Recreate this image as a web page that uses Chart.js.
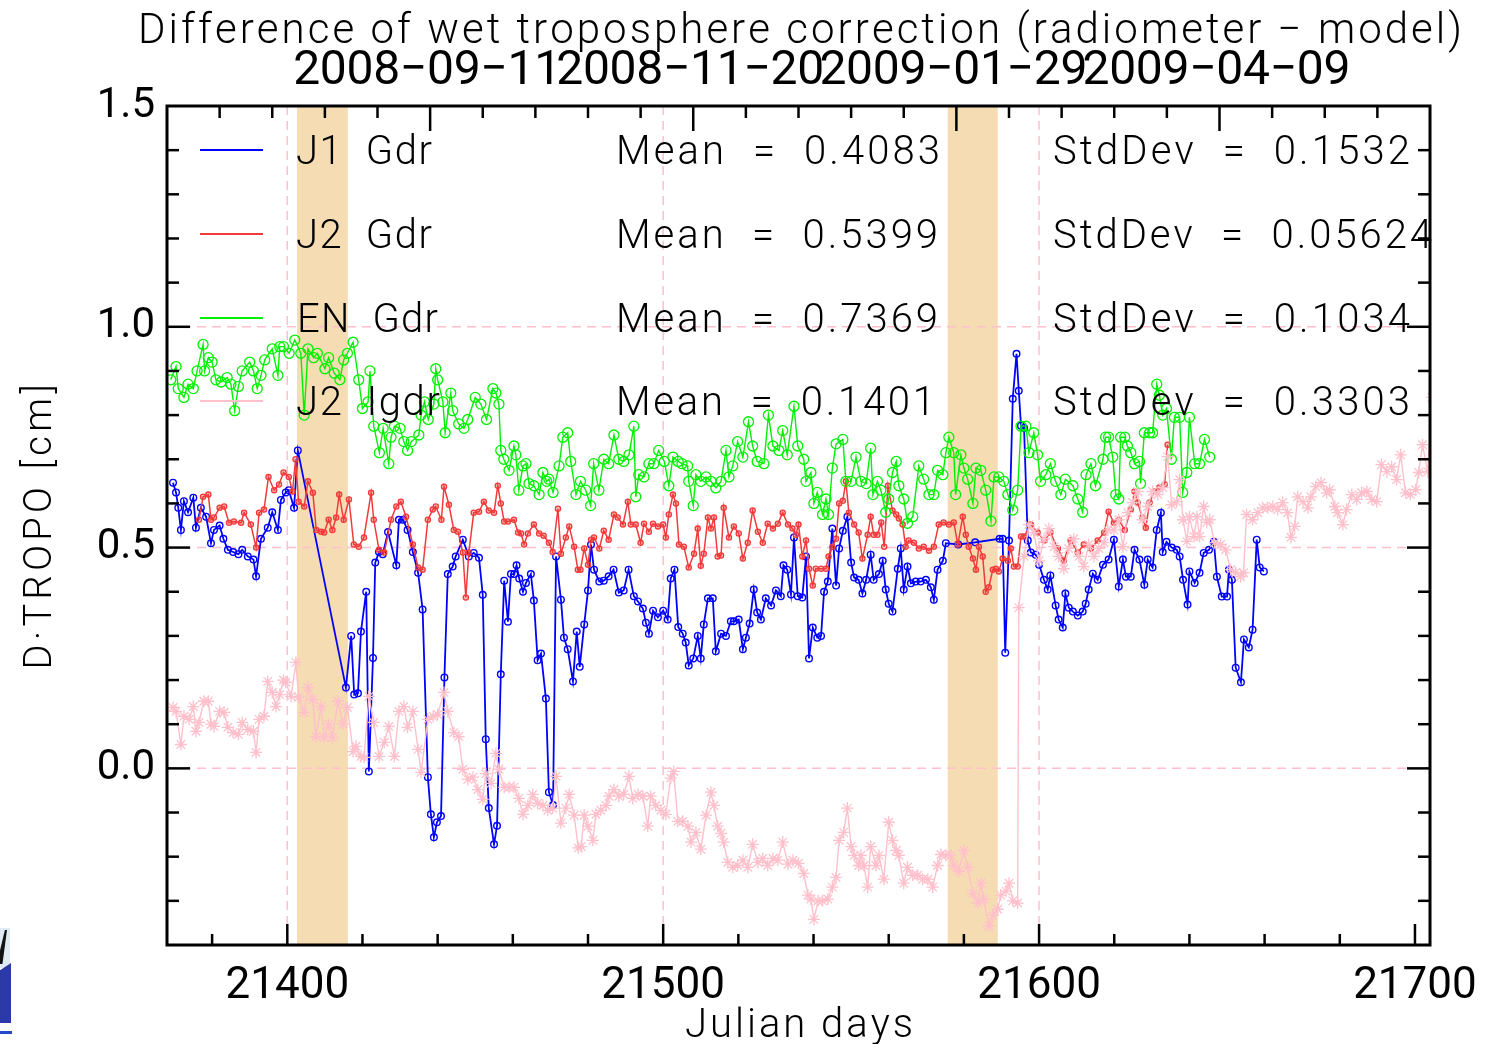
<!DOCTYPE html>
<html>
<head>
<meta charset="utf-8">
<title>Difference of wet troposphere correction</title>
<script src="https://cdn.jsdelivr.net/npm/chart.js@4.4.1/dist/chart.umd.min.js"></script>
<style>
  html, body { margin: 0; padding: 0; background: #fff; }
  #wrap { position: relative; width: 1485px; height: 1044px; }
  .logo { position: absolute; }
</style>
</head>
<body>
<div id="wrap">
  <canvas id="tropoChart"></canvas>
  <div class="logo" style="left:0;top:928px;width:10px;height:40px;background:#dfeaf2;"></div>
  <div class="logo" style="left:0;top:930px;width:7px;height:34px;background:#111;clip-path:polygon(70% 0,100% 0,35% 100%,0 100%,0 60%);"></div>
  <div class="logo" style="left:0;top:963px;width:11px;height:60px;background:#2b3aa6;clip-path:polygon(0 12%,100% 0,100% 100%,0 100%);"></div>
  <div class="logo" style="left:0;top:1031px;width:12px;height:3px;background:#2448c8;"></div>
</div>
<script>
// J1 Gdr, J2 Gdr, EN Gdr, J2 Igdr : [julian day, radiometer - model (cm)]
const j1Gdr = [[21369.6,0.647],[21370.4,0.625],[21371,0.59],[21371.7,0.54],[21372.5,0.605],[21373.6,0.58],[21375,0.613],[21375.7,0.545],[21377,0.59],[21378.4,0.57],[21379.7,0.51],[21380.5,0.54],[21382,0.55],[21383,0.52],[21384.2,0.495],[21385.6,0.49],[21387,0.485],[21388,0.495],[21389.5,0.48],[21391,0.473],[21391.7,0.435],[21393,0.52],[21394.8,0.545],[21396,0.58],[21397.5,0.54],[21398.3,0.608],[21399.6,0.625],[21400.4,0.63],[21401.8,0.59],[21402.8,0.72],[21415.6,0.183],[21417,0.30],[21417.8,0.167],[21418.8,0.17],[21419.6,0.31],[21421,0.40],[21421.7,-0.007],[21422.8,0.25],[21423.4,0.466],[21424.4,0.49],[21425.4,0.485],[21426.8,0.535],[21429,0.46],[21429.7,0.563],[21430.8,0.563],[21432,0.54],[21433.4,0.49],[21434.8,0.443],[21436,0.36],[21437.4,-0.02],[21438.2,-0.104],[21439,-0.156],[21439.8,-0.122],[21440.9,-0.108],[21441.8,0.206],[21442.7,0.44],[21444,0.457],[21444.8,0.48],[21446.7,0.518],[21448.3,0.48],[21449.6,0.488],[21451,0.477],[21452,0.393],[21452.8,0.066],[21453.6,-0.09],[21455,-0.172],[21455.8,-0.13],[21456.8,0.213],[21457.7,0.425],[21458.7,0.332],[21459.5,0.44],[21460.4,0.44],[21461,0.46],[21461.7,0.43],[21462.7,0.40],[21463.5,0.42],[21464.8,0.44],[21465.6,0.38],[21466.6,0.245],[21467.5,0.26],[21468.8,0.158],[21469.6,-0.054],[21470.7,-0.083],[21471.5,0.48],[21472.8,0.382],[21473.6,0.296],[21474.6,0.27],[21476,0.197],[21477,0.31],[21477.8,0.23],[21479,0.326],[21480,0.403],[21480.8,0.507],[21481.6,0.45],[21483,0.423],[21484.2,0.425],[21485.5,0.435],[21486.8,0.45],[21488.2,0.398],[21489.5,0.403],[21490.8,0.45],[21492.2,0.39],[21493.3,0.378],[21494.6,0.362],[21495.4,0.33],[21496.2,0.305],[21497.3,0.357],[21498.6,0.342],[21500,0.357],[21501.2,0.337],[21502,0.43],[21503,0.45],[21504,0.32],[21505.2,0.305],[21506,0.285],[21506.8,0.233],[21508,0.249],[21509.2,0.30],[21510,0.249],[21510.8,0.326],[21511.9,0.385],[21513.2,0.385],[21514,0.265],[21515.4,0.305],[21516.7,0.30],[21518,0.333],[21518.8,0.333],[21520.1,0.337],[21521.2,0.27],[21522,0.296],[21523,0.328],[21524.1,0.405],[21525,0.353],[21526,0.337],[21527.3,0.385],[21528.7,0.369],[21530,0.403],[21531.3,0.39],[21532,0.46],[21533,0.45],[21534,0.394],[21534.8,0.523],[21535.8,0.39],[21537,0.387],[21538,0.48],[21538.8,0.249],[21539.8,0.319],[21541,0.296],[21542,0.30],[21542.8,0.40],[21543.8,0.423],[21545,0.543],[21546,0.414],[21546.8,0.498],[21547.8,0.538],[21549,0.57],[21550,0.466],[21550.8,0.432],[21552,0.427],[21553,0.396],[21554,0.427],[21555.2,0.484],[21556,0.427],[21557.4,0.44],[21558.4,0.47],[21559.2,0.405],[21560,0.373],[21561,0.355],[21562.4,0.452],[21563.2,0.498],[21564,0.405],[21565,0.457],[21565.9,0.419],[21567.2,0.423],[21568.5,0.423],[21569.9,0.427],[21571.2,0.41],[21572,0.382],[21573,0.45],[21574.4,0.47],[21575.2,0.51],[21578.5,0.507],[21583,0.512],[21589.5,0.52],[21590.3,0.52],[21591,0.262],[21592,0.516],[21593,0.837],[21594,0.939],[21594.6,0.855],[21595.2,0.776],[21596,0.771],[21597,0.516],[21597.8,0.489],[21599.1,0.484],[21600,0.461],[21601.3,0.427],[21602.3,0.405],[21603,0.437],[21604.4,0.369],[21605.2,0.337],[21606.3,0.319],[21607,0.396],[21607.9,0.364],[21609,0.355],[21610.3,0.346],[21611.6,0.355],[21612.4,0.373],[21613.2,0.405],[21614.3,0.441],[21615.6,0.427],[21617,0.461],[21618.5,0.473],[21619.9,0.518],[21621.2,0.412],[21622.3,0.473],[21623.1,0.434],[21624.4,0.434],[21625.4,0.495],[21626.7,0.473],[21628,0.416],[21628.9,0.473],[21630.2,0.455],[21631.3,0.54],[21632.4,0.579],[21632.9,0.49],[21633.9,0.513],[21635.3,0.50],[21636.6,0.495],[21637.4,0.48],[21638.3,0.427],[21639.5,0.371],[21640,0.446],[21641.4,0.42],[21642.7,0.443],[21643.8,0.488],[21645.2,0.495],[21646.5,0.513],[21647.3,0.434],[21648.6,0.389],[21650,0.389],[21650.5,0.45],[21651.3,0.427],[21652.3,0.228],[21653.7,0.195],[21654.5,0.292],[21655.8,0.274],[21656.8,0.314],[21657.9,0.518],[21658.7,0.455],[21659.8,0.446]];

const j2Gdr = [[21376.5,0.563],[21377.6,0.615],[21379,0.62],[21379.7,0.563],[21380.5,0.568],[21382,0.59],[21383.2,0.593],[21384.5,0.556],[21385.8,0.559],[21387.7,0.556],[21388.5,0.579],[21390.3,0.552],[21391.7,0.50],[21392.5,0.579],[21393.8,0.586],[21395,0.66],[21396.5,0.63],[21397.8,0.643],[21399,0.67],[21400.4,0.66],[21401.4,0.627],[21402.2,0.70],[21403,0.604],[21404.5,0.593],[21405.5,0.65],[21406.8,0.624],[21407.7,0.54],[21409,0.536],[21409.8,0.534],[21411,0.563],[21412,0.54],[21413,0.568],[21413.8,0.62],[21415,0.563],[21416.4,0.609],[21417.7,0.507],[21419,0.502],[21420.4,0.523],[21422.3,0.624],[21423,0.563],[21424.4,0.495],[21425.8,0.489],[21427.6,0.563],[21429,0.593],[21430.2,0.604],[21431.6,0.57],[21433.4,0.507],[21434.8,0.455],[21436,0.45],[21437.4,0.563],[21438.7,0.586],[21439.5,0.593],[21441,0.563],[21441.7,0.638],[21443,0.597],[21444.3,0.54],[21445.4,0.536],[21446.7,0.489],[21447.5,0.387],[21448.3,0.489],[21449.6,0.579],[21451,0.581],[21452.3,0.604],[21453.6,0.584],[21455,0.579],[21456,0.64],[21456.8,0.60],[21457.7,0.559],[21458.7,0.559],[21460.3,0.563],[21461.4,0.534],[21462.2,0.532],[21463,0.507],[21464,0.532],[21465.6,0.552],[21467,0.532],[21468.2,0.527],[21469.6,0.511],[21470.6,0.49],[21472,0.588],[21472.8,0.486],[21474.1,0.523],[21475,0.548],[21476.3,0.502],[21477.3,0.45],[21478,0.45],[21479,0.498],[21480,0.461],[21480.8,0.518],[21481.6,0.523],[21483,0.498],[21484.2,0.538],[21485.5,0.518],[21486.9,0.575],[21487.9,0.568],[21489.3,0.552],[21490.6,0.604],[21491.4,0.552],[21492.7,0.552],[21494,0.511],[21494.9,0.554],[21496.2,0.536],[21497.3,0.554],[21498.6,0.548],[21500,0.552],[21500.7,0.523],[21501.5,0.575],[21502.6,0.62],[21503.4,0.60],[21504.2,0.507],[21505.5,0.502],[21506.8,0.455],[21508.2,0.486],[21509.2,0.543],[21510,0.459],[21510.8,0.486],[21511.9,0.568],[21512.7,0.543],[21513.5,0.568],[21514.5,0.48],[21515.4,0.482],[21516.1,0.59],[21517.5,0.523],[21518.8,0.548],[21520.1,0.532],[21521.2,0.475],[21522.5,0.511],[21523.8,0.584],[21525.2,0.536],[21526.5,0.511],[21527.8,0.554],[21529.2,0.543],[21530.5,0.554],[21531.8,0.579],[21533.2,0.552],[21534.4,0.543],[21535.3,0.529],[21536,0.552],[21537,0.48],[21538,0.516],[21538.8,0.452],[21539.8,0.414],[21540.6,0.452],[21542,0.452],[21543.3,0.452],[21544,0.48],[21545,0.502],[21546,0.52],[21546.8,0.60],[21547.8,0.606],[21548.6,0.65],[21549.4,0.579],[21550.8,0.552],[21552,0.534],[21553,0.475],[21554.4,0.529],[21555.2,0.57],[21556,0.529],[21557,0.529],[21558,0.557],[21558.8,0.502],[21559.8,0.64],[21561,0.584],[21562,0.575],[21562.7,0.566],[21563.7,0.552],[21564.5,0.502],[21565.3,0.516],[21566.7,0.511],[21568,0.498],[21569.3,0.502],[21570.7,0.493],[21572,0.502],[21573.3,0.552],[21574.6,0.557],[21576,0.552],[21577.3,0.557],[21578.4,0.507],[21579.7,0.57],[21580.5,0.529],[21581.3,0.502],[21582.4,0.475],[21583.2,0.45],[21584,0.502],[21585,0.48],[21585.8,0.40],[21586.6,0.41],[21587.7,0.45],[21588.5,0.452],[21589.3,0.446],[21590.3,0.475],[21591.7,0.47],[21592.5,0.498],[21593.3,0.457],[21594.3,0.457],[21595.2,0.525],[21596,0.525],[21597.8,0.552],[21599.6,0.534],[21601.4,0.516],[21603,0.534],[21605,0.498],[21606.6,0.47],[21608.4,0.516],[21610.3,0.489],[21611.9,0.507],[21613.8,0.498],[21615.6,0.516],[21617.3,0.534],[21618.5,0.581],[21619.9,0.556],[21621.2,0.563],[21622.8,0.54],[21624.4,0.586],[21625.4,0.627],[21626.2,0.602],[21627.5,0.568],[21628.4,0.545],[21629.4,0.602],[21630.7,0.627],[21632,0.636],[21633.4,0.643],[21634.2,0.733]];

const enGdr = [[21369,0.88],[21370.4,0.91],[21371,0.86],[21372.5,0.84],[21373.6,0.87],[21375,0.86],[21376,0.90],[21377.6,0.96],[21378,0.90],[21379,0.93],[21380,0.92],[21381,0.88],[21382.4,0.875],[21384,0.885],[21385,0.87],[21386,0.81],[21387,0.865],[21388,0.90],[21390,0.92],[21391,0.90],[21392,0.86],[21393,0.89],[21394,0.925],[21396,0.95],[21397.5,0.89],[21398,0.955],[21399,0.955],[21400.5,0.94],[21402,0.97],[21403.6,0.94],[21404.5,0.80],[21405.5,0.95],[21407,0.93],[21408,0.94],[21410,0.905],[21411,0.93],[21412.5,0.895],[21414,0.88],[21415,0.925],[21416,0.94],[21417.5,0.965],[21419,0.88],[21420,0.815],[21421.5,0.83],[21422,0.90],[21423,0.775],[21424.5,0.715],[21425.5,0.77],[21427,0.69],[21427.6,0.75],[21428.5,0.775],[21430,0.77],[21431,0.74],[21432,0.72],[21433,0.74],[21435,0.755],[21435.6,0.80],[21436.5,0.83],[21437.5,0.79],[21439,0.825],[21439.5,0.905],[21440,0.88],[21441.4,0.83],[21442,0.76],[21443.5,0.85],[21444,0.81],[21445.6,0.78],[21447,0.77],[21448,0.79],[21450,0.84],[21451.5,0.825],[21453,0.79],[21454.7,0.86],[21455.5,0.85],[21456.3,0.825],[21456.8,0.72],[21457.6,0.70],[21459,0.675],[21460.3,0.73],[21460.8,0.71],[21461.6,0.63],[21462.7,0.685],[21463.5,0.69],[21464.3,0.645],[21465.6,0.64],[21467,0.62],[21468,0.67],[21469,0.65],[21469.6,0.655],[21470.7,0.625],[21472.3,0.685],[21473.3,0.75],[21474.6,0.76],[21475.4,0.695],[21476.8,0.62],[21478,0.65],[21479.4,0.63],[21480.7,0.595],[21481.5,0.69],[21482.9,0.63],[21484.2,0.70],[21485.5,0.69],[21486.9,0.755],[21488.2,0.70],[21489.5,0.695],[21490.9,0.71],[21492.2,0.775],[21492.7,0.615],[21493.5,0.665],[21494.9,0.66],[21496.2,0.69],[21497.5,0.69],[21498.8,0.72],[21500.3,0.695],[21501.5,0.64],[21502.6,0.705],[21504,0.695],[21505,0.69],[21506.5,0.685],[21506.8,0.65],[21508,0.595],[21508.7,0.665],[21510,0.65],[21511.4,0.66],[21512.7,0.65],[21514,0.635],[21515.4,0.65],[21516.7,0.72],[21517.5,0.66],[21518.5,0.685],[21519.8,0.74],[21521.2,0.705],[21522.7,0.785],[21523.8,0.73],[21525,0.695],[21526.8,0.69],[21528,0.80],[21529.2,0.73],[21530.8,0.72],[21531.8,0.765],[21533,0.71],[21534.8,0.82],[21535.8,0.73],[21537.4,0.70],[21538,0.65],[21539.3,0.67],[21540.1,0.60],[21541,0.625],[21542.4,0.575],[21543.3,0.61],[21544,0.575],[21545,0.68],[21546,0.735],[21547.8,0.745],[21548.6,0.65],[21550,0.65],[21551.3,0.705],[21552.6,0.65],[21554,0.645],[21555.2,0.725],[21555.8,0.62],[21557,0.65],[21557.9,0.63],[21559.2,0.58],[21560,0.61],[21561,0.67],[21562,0.695],[21562.7,0.64],[21564,0.61],[21565,0.555],[21566.4,0.57],[21568,0.685],[21569.3,0.655],[21570.7,0.62],[21572,0.62],[21573,0.675],[21574.4,0.665],[21575.2,0.715],[21576,0.75],[21577.3,0.715],[21577.8,0.62],[21579.2,0.71],[21580,0.68],[21581,0.655],[21582.4,0.60],[21583.2,0.68],[21584.5,0.675],[21585.8,0.63],[21587.2,0.56],[21588,0.66],[21589.3,0.66],[21590.6,0.65],[21591.7,0.62],[21593,0.585],[21594.3,0.63],[21595.2,0.775],[21596.5,0.775],[21597.3,0.715],[21598.6,0.76],[21599.6,0.71],[21600.4,0.65],[21601.8,0.665],[21603,0.69],[21604.4,0.65],[21605.8,0.62],[21607,0.655],[21609,0.64],[21610.3,0.61],[21611.6,0.58],[21612.5,0.665],[21613.8,0.69],[21615,0.64],[21617,0.70],[21617.7,0.75],[21618.5,0.75],[21619.6,0.705],[21620.4,0.62],[21621.2,0.61],[21621.7,0.75],[21622.8,0.75],[21623.5,0.73],[21624.4,0.715],[21625.4,0.69],[21626.7,0.695],[21627,0.645],[21628,0.76],[21629.4,0.76],[21630.2,0.76],[21631.3,0.87],[21632,0.845],[21632.9,0.80],[21633.9,0.815],[21635.2,0.70],[21636,0.795],[21637.4,0.795],[21638.2,0.625],[21639.3,0.67],[21640,0.795],[21641.4,0.69],[21642.7,0.69],[21644,0.745],[21645.4,0.705]];

const j2Igdr = [[21369.6,0.138],[21370.4,0.129],[21371.7,0.054],[21372.5,0.118],[21373.9,0.111],[21375,0.14],[21375.7,0.084],[21376.5,0.104],[21377.8,0.152],[21379,0.152],[21379.7,0.10],[21380.5,0.095],[21382,0.129],[21383.2,0.127],[21384.2,0.093],[21385.6,0.081],[21387,0.077],[21388,0.104],[21389.5,0.088],[21391,0.084],[21391.7,0.036],[21392.5,0.111],[21393.8,0.118],[21394.8,0.197],[21396,0.172],[21397,0.14],[21398,0.167],[21399,0.20],[21399.6,0.195],[21401,0.163],[21402.3,0.24],[21403,0.161],[21404.5,0.127],[21405.5,0.183],[21406.8,0.156],[21407.6,0.072],[21409,0.14],[21409.8,0.07],[21411,0.10],[21412,0.07],[21413.5,0.152],[21414.8,0.10],[21416,0.138],[21417.5,0.038],[21418.3,0.05],[21419.6,0.027],[21420.4,0.025],[21421.7,0.163],[21423,0.104],[21424.4,0.027],[21425.8,0.059],[21427,0.095],[21428.5,0.027],[21429.7,0.129],[21431,0.14],[21432,0.093],[21433.4,0.129],[21434.8,0.043],[21435.6,-0.009],[21437.4,0.111],[21438.8,0.118],[21440,0.122],[21441.7,0.172],[21442.7,0.129],[21444.3,0.081],[21445.6,0.072],[21446.7,-0.002],[21448,-0.025],[21449.4,-0.02],[21450.7,-0.048],[21452,-0.07],[21452.8,-0.012],[21454.2,-0.034],[21455.5,0.034],[21456.3,-0.002],[21457.7,-0.043],[21459,-0.043],[21460.3,-0.043],[21461.6,-0.068],[21462.7,-0.104],[21464,-0.084],[21465.3,-0.059],[21466.6,-0.079],[21468,-0.084],[21469.3,-0.095],[21470.6,-0.09],[21471.5,-0.018],[21472.8,-0.124],[21474.1,-0.09],[21475,-0.059],[21476.3,-0.106],[21477.4,-0.18],[21478.2,-0.177],[21479,-0.106],[21480,-0.131],[21481.3,-0.163],[21482.1,-0.104],[21483.4,-0.095],[21484.8,-0.084],[21485.6,-0.063],[21486.9,-0.048],[21488.2,-0.063],[21489.5,-0.059],[21490.9,-0.018],[21491.9,-0.068],[21493.3,-0.059],[21494.6,-0.063],[21495.9,-0.131],[21496.7,-0.063],[21498,-0.084],[21499.4,-0.095],[21500.7,-0.104],[21502,-0.022],[21502.8,-0.007],[21503.9,-0.12],[21505.2,-0.12],[21506.6,-0.131],[21507.4,-0.167],[21508.7,-0.145],[21510,-0.183],[21511.4,-0.106],[21512.7,-0.054],[21513.5,-0.084],[21514.5,-0.131],[21515.4,-0.147],[21516.1,-0.167],[21517.2,-0.213],[21518.5,-0.224],[21519.8,-0.22],[21521.2,-0.208],[21522.5,-0.224],[21523.8,-0.172],[21525.2,-0.213],[21526.5,-0.204],[21527.8,-0.22],[21529.2,-0.204],[21530.5,-0.208],[21531.8,-0.167],[21533.2,-0.217],[21534.5,-0.208],[21536,-0.215],[21537.4,-0.238],[21538.5,-0.287],[21539.3,-0.296],[21540.1,-0.342],[21541.2,-0.30],[21542.4,-0.30],[21543.8,-0.296],[21545,-0.269],[21546,-0.247],[21546.8,-0.163],[21548,-0.145],[21549,-0.09],[21550,-0.177],[21550.8,-0.197],[21552,-0.22],[21552.6,-0.197],[21553.4,-0.22],[21554.4,-0.269],[21555.2,-0.177],[21556.6,-0.22],[21557.4,-0.197],[21558.7,-0.251],[21560,-0.122],[21561,-0.163],[21562,-0.186],[21562.7,-0.197],[21564,-0.26],[21565,-0.224],[21566.4,-0.242],[21567.7,-0.242],[21569,-0.251],[21570.4,-0.251],[21571.7,-0.269],[21573,-0.22],[21573.9,-0.195],[21575.2,-0.197],[21576.5,-0.197],[21577.3,-0.22],[21578.6,-0.233],[21580,-0.186],[21581,-0.224],[21582.4,-0.283],[21583.7,-0.305],[21584.5,-0.26],[21585.3,-0.296],[21586.6,-0.357],[21587.7,-0.333],[21589,-0.319],[21589.8,-0.287],[21591.2,-0.278],[21592,-0.26],[21593,-0.30],[21594.3,-0.305],[21594.6,0.364],[21596,0.48],[21597.3,0.552],[21598.6,0.534],[21600,0.47],[21601.3,0.52],[21602.6,0.543],[21604,0.502],[21605.2,0.48],[21606.6,0.452],[21607.9,0.498],[21609.2,0.52],[21610.6,0.48],[21611.9,0.457],[21613.2,0.507],[21614.6,0.48],[21615.9,0.498],[21617.3,0.511],[21618.3,0.54],[21619.9,0.54],[21621.2,0.563],[21622.3,0.502],[21623.6,0.579],[21624.9,0.602],[21626.2,0.627],[21627.5,0.563],[21628.9,0.593],[21630.2,0.627],[21631.6,0.62],[21632.9,0.636],[21634.2,0.706],[21635.3,0.597],[21636.6,0.604],[21637.4,0.654],[21638.3,0.563],[21639.3,0.514],[21640,0.57],[21641.2,0.525],[21642,0.57],[21642.7,0.525],[21643.8,0.593],[21644.6,0.557],[21645.4,0.563],[21646.7,0.511],[21648.3,0.507],[21649.6,0.495],[21651,0.45],[21652.3,0.443],[21653.6,0.434],[21654.4,0.443],[21655.2,0.575],[21656.8,0.563],[21658.2,0.579],[21659.5,0.59],[21660.8,0.59],[21662.2,0.593],[21663.5,0.586],[21664.8,0.602],[21666.1,0.579],[21667,0.523],[21668,0.548],[21668.8,0.615],[21670.2,0.604],[21671.5,0.59],[21672.3,0.615],[21673.6,0.638],[21675,0.647],[21676.5,0.624],[21677.3,0.631],[21678.7,0.593],[21679.4,0.579],[21680.8,0.552],[21681.8,0.586],[21683.2,0.62],[21684.5,0.609],[21685.8,0.624],[21687.2,0.627],[21688.5,0.609],[21689.8,0.604],[21691.1,0.688],[21692.5,0.672],[21693.8,0.683],[21695.1,0.654],[21696.2,0.71],[21697.5,0.624],[21698.8,0.62],[21700.2,0.631],[21701,0.67],[21702,0.733],[21703.4,0.672],[21704.5,0.84]];

const seriesNames = ['J1  Gdr', 'J2  Gdr', 'EN  Gdr', 'J2  Igdr'];
const seriesColors = ['#0000ff', '#f23a3a', '#00f000', '#ffc0cb'];
const meanLabels = ['Mean  =  0.4083', 'Mean  =  0.5399', 'Mean  =  0.7369', 'Mean  =  0.1401'];
const stdLabels = ['StdDev  =  0.1532', 'StdDev  =  0.05624', 'StdDev  =  0.1034', 'StdDev  =  0.3303'];

const xLabelDays = [21400, 21500, 21600, 21700];
const yLabelLevels = [0, 0.5, 1.0, 1.5];
const gridDays = [21400, 21500, 21600];
const gridLevels = [0, 0.5, 1.0];
const topLabelDays = [21438, 21508, 21578, 21648];
const topLabels = ['2008\u221209\u221211', '2008\u221211\u221220', '2009\u221201\u221229', '2009\u221204\u221209'];
// manoeuvre / gap periods shaded on the plot
const bands = [[21402.6, 21416.1], [21575.7, 21589.0]];

const FONT = 'Roboto, "DejaVu Sans", sans-serif';

// spreads the characters of a string so it covers a given width
function spreadText(ctx, text, x, y, width, size, align, weight) {
  ctx.font = `${weight || 300} ${size}px ${FONT}`;
  ctx.textAlign = 'left';
  ctx.textBaseline = 'middle';
  const chars = [...text];
  const widths = chars.map(c => ctx.measureText(c).width);
  const natural = widths.reduce((a, b) => a + b, 0);
  const gap = chars.length > 1 ? (width - natural) / (chars.length - 1) : 0;
  let cx = align === 'center' ? x - width / 2 : x;
  const cy = y + size * 0.1;
  chars.forEach((c, i) => {
    ctx.fillText(c, cx, cy);
    cx += widths[i] + gap;
  });
}

function line(ctx, x0, y0, x1, y1) {
  ctx.beginPath();
  ctx.moveTo(x0, y0);
  ctx.lineTo(x1, y1);
  ctx.stroke();
}

const idlFrame = {
  id: 'idlFrame',
  beforeDatasetsDraw(chart) {
    const { ctx, chartArea: a, scales: { x, y } } = chart;
    ctx.save();
    ctx.fillStyle = '#f5dcb2';
    bands.forEach(([d0, d1]) => {
      const x0 = x.getPixelForValue(d0);
      const x1 = x.getPixelForValue(d1);
      ctx.fillRect(x0, a.top, x1 - x0, a.bottom - a.top);
    });
    ctx.strokeStyle = '#ffc0cb';
    ctx.lineWidth = 1.5;
    ctx.setLineDash([9, 6]);
    gridDays.forEach(d => {
      const px = x.getPixelForValue(d);
      line(ctx, px, a.top, px, a.bottom);
    });
    gridLevels.forEach(v => {
      const py = y.getPixelForValue(v);
      line(ctx, a.left, py, a.right, py);
    });
    ctx.restore();
  },
  afterDatasetsDraw(chart) {
    const { ctx, chartArea: a, scales: { x, y } } = chart;
    ctx.save();

    // legend rows with statistics
    const rowY = [150, 234, 318, 401];
    seriesNames.forEach((name, i) => {
      ctx.strokeStyle = seriesColors[i];
      ctx.lineWidth = 2;
      line(ctx, 200, rowY[i], 263, rowY[i]);
      ctx.fillStyle = '#000';
      spreadText(ctx, name, i === 2 ? 297 : 296, rowY[i], i === 3 ? 144 : (i === 2 ? 141 : 136), 40);
      spreadText(ctx, meanLabels[i], 616, rowY[i], i === 0 ? 324 : (i === 3 ? 319 : 322), 40);
      spreadText(ctx, stdLabels[i], 1053, rowY[i], i === 1 ? 379 : 357, 40);
    });

    // frame and inward ticks
    ctx.strokeStyle = '#000';
    ctx.lineWidth = 3;
    ctx.strokeRect(a.left, a.top, a.right - a.left, a.bottom - a.top);
    ctx.lineWidth = 2.5;
    for (let k = -3; k <= 14; k++) {
      const py = y.getPixelForValue(k / 10);
      const len = k % 5 === 0 ? 23 : 12;
      line(ctx, a.left, py, a.left + len, py);
      line(ctx, a.right, py, a.right - len, py);
    }
    for (let d = 21380; d <= 21700; d += 20) {
      const px = x.getPixelForValue(d);
      line(ctx, px, a.bottom, px, a.bottom - (d % 100 === 0 ? 21 : 11));
    }
    for (let d = 21382; d < 21704; d += 14) {
      const px = x.getPixelForValue(d);
      line(ctx, px, a.top, px, a.top + (topLabelDays.includes(d) ? 25 : 12));
    }
    ctx.restore();
  },
  afterDraw(chart) {
    const { ctx, scales: { x } } = chart;
    ctx.save();
    ctx.fillStyle = '#000';
    spreadText(ctx, 'Difference of wet troposphere correction (radiometer \u2212 model)', 138, 28, 1324, 42);
    topLabels.forEach((t, i) => {
      spreadText(ctx, t, x.getPixelForValue(topLabelDays[i]) - 3, 67, 268, 48, 'center', 400);
    });
    spreadText(ctx, 'Julian days', 799, 1023, 228, 40, 'center');
    ctx.translate(38, 527);
    ctx.rotate(-Math.PI / 2);
    spreadText(ctx, 'D\u00b7TROPO [cm]', 0, 0, 285, 38, 'center');
    ctx.restore();
  }
};

function toPoints(pairs) {
  return pairs.map(([d, v]) => ({ x: d, y: v }));
}

const datasets = [
  { label: 'J1 Gdr', data: toPoints(j1Gdr), order: 4, borderColor: '#0000ff', borderWidth: 1.8,
    pointStyle: 'circle', pointRadius: 3.3, pointBorderWidth: 1.4, pointBackgroundColor: 'rgba(0,0,0,0)', pointBorderColor: '#0000ff' },
  { label: 'J2 Gdr', data: toPoints(j2Gdr), order: 3, borderColor: '#f23a3a', borderWidth: 1.5,
    pointStyle: 'circle', pointRadius: 2.6, pointBorderWidth: 1.3, pointBackgroundColor: 'rgba(242,58,58,0.35)', pointBorderColor: '#f23a3a' },
  { label: 'EN Gdr', data: toPoints(enGdr), order: 2, borderColor: '#00f000', borderWidth: 1.4,
    pointStyle: 'circle', pointRadius: 5, pointBorderWidth: 1.3, pointBackgroundColor: 'rgba(0,0,0,0)', pointBorderColor: '#00f000' },
  { label: 'J2 Igdr', data: toPoints(j2Igdr), order: 1, borderColor: '#ffc0cb', borderWidth: 1.4,
    pointStyle: 'star', pointRadius: 6, pointBorderWidth: 1.3, pointBackgroundColor: 'rgba(0,0,0,0)', pointBorderColor: '#ffc0cb' }
];

new Chart(document.getElementById('tropoChart'), {
  type: 'line',
  data: { datasets: datasets },
  plugins: [idlFrame],
  options: {
    responsive: true,
    maintainAspectRatio: false,
    animation: false,
    events: [],
    layout: { padding: { top: 106, right: 55, left: 0, bottom: 0 } },
    elements: { line: { tension: 0, fill: false } },
    plugins: { legend: { display: false }, tooltip: { enabled: false }, title: { display: false } },
    scales: {
      x: {
        type: 'linear', min: 21368, max: 21704,
        afterBuildTicks: s => { s.ticks = xLabelDays.map(v => ({ value: v })); },
        afterFit: s => { s.height = 99; s.paddingLeft = 0; s.paddingRight = 0; },
        grid: { display: false, drawTicks: false },
        border: { display: false },
        ticks: { font: { family: FONT, size: 44, weight: 400 }, color: '#000', padding: 16, maxRotation: 0, autoSkip: false, callback: v => String(v) }
      },
      y: {
        type: 'linear', min: -0.4, max: 1.5,
        afterBuildTicks: s => { s.ticks = yLabelLevels.map(v => ({ value: v })); },
        afterFit: s => { s.width = 167; s.paddingTop = 0; s.paddingBottom = 0; },
        grid: { display: false, drawTicks: false },
        border: { display: false },
        ticks: { font: { family: FONT, size: 42, weight: 400 }, color: '#000', padding: 12, callback: v => Number(v).toFixed(1) }
      }
    }
  }
});
</script>
</body>
</html>
